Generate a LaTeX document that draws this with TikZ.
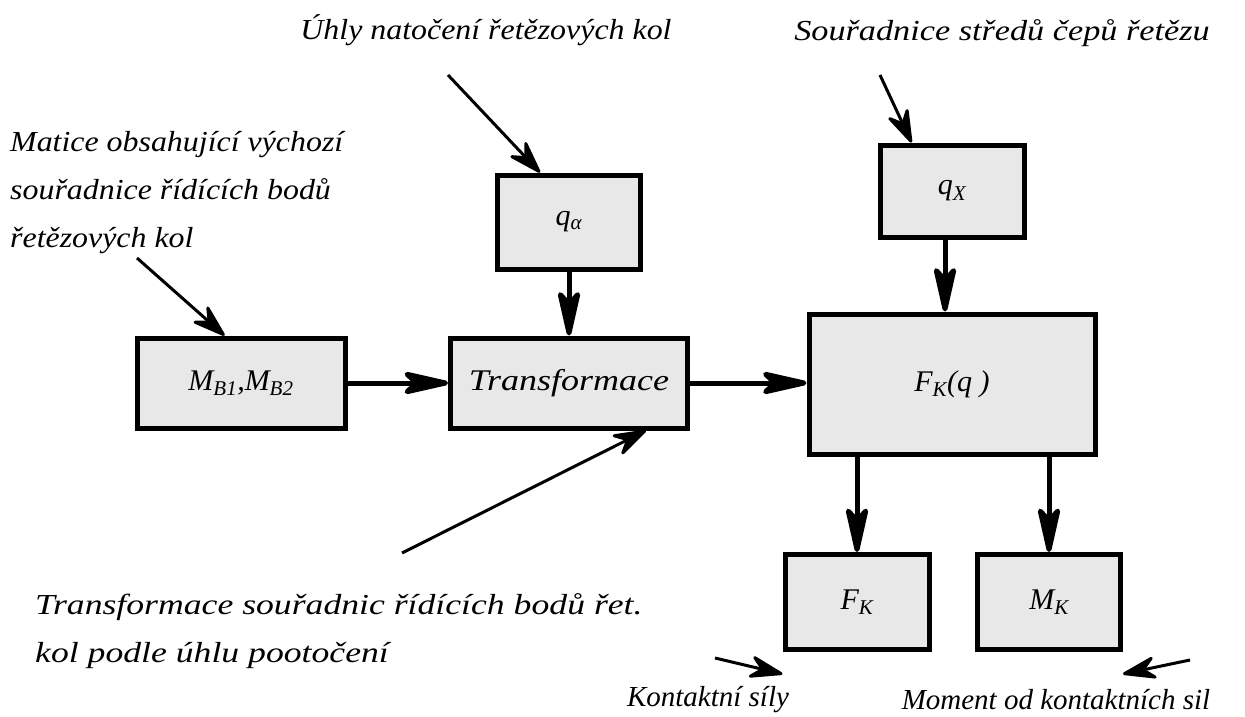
\documentclass[tikz,border=0pt]{standalone}
\usepackage{fontspec}
\setmainfont{Liberation Serif}
\usepackage{tikz}
\usetikzlibrary{arrows.meta, positioning, calc}
\definecolor{BoxGray}{HTML}{E8E8E8}
\tikzset{
  blk node/.style={rectangle, draw, fill=BoxGray, line width=5pt,
                   inner sep=0pt, font=\fontsize{30}{36}\selectfont\itshape},
  lbl node/.style={inner sep=0pt, align=left,
                   font=\fontsize{29}{48}\selectfont\itshape},
  wide/.style={font=\fontsize{29}{48}\selectfont\itshape
                    \addfontfeature{FakeStretch=#1}},
  flow edge/.style={-{Stealth[length=58pt, width=26pt, inset=14pt, round]},
                    line width=5pt},
  note edge/.style={-{Stealth[length=40pt, width=26pt, inset=14pt, round]},
                    line width=3pt},
}

\begin{document}
\begin{tikzpicture}[x=1pt, y=-1pt]
  \useasboundingbox (0,0) rectangle (1245,717);
  % blocks
  \node[blk node, minimum width=208pt, minimum height=90pt] (mb) at (241,383)
    {M\textsubscript{B1},M\textsubscript{B2}};
  \node[blk node, minimum width=237pt, minimum height=90pt,
        font=\fontsize{30}{36}\selectfont\itshape\addfontfeature{FakeStretch=1.2}]
    (tr) at (569,383) {Transformace};
  \node[blk node, minimum width=143pt, minimum height=94pt] (qa) at (569,222)
    {q\textsubscript{α}};
  \node[blk node, minimum width=144pt, minimum height=92pt] (qx) at (952,191)
    {q\textsubscript{X}};
  \node[blk node, minimum width=286pt, minimum height=140pt] (fkq) at (952,384)
    {F\textsubscript{K}(q )};
  \node[blk node, minimum width=144pt, minimum height=95pt] (fk) at (857,602)
    {F\textsubscript{K}};
  \node[blk node, minimum width=143pt, minimum height=95pt] (mk) at (1049,602)
    {M\textsubscript{K}};
  % labels
  \node[lbl node, wide=1.1] (uhly) at (486,30) {Úhly natočení řetězových kol};
  \node[lbl node, wide=1.18] (sour) at (1002,33) {Souřadnice středů čepů řetězu};
  \node[lbl node, wide=1.1, anchor=north west] (mat) at (10,131)
    {Matice obsahující výchozí\\souřadnice řídících bodů\\řetězových kol};
  \node[lbl node, wide=1.23, anchor=north west] (tnote) at (35,593)
    {Transformace souřadnic řídících bodů řet.\\kol podle úhlu pootočení};
  \node[lbl node] (kont) at (708,700) {Kontaktní síly};
  \node[lbl node] (mom) at (1056,700) {Moment od kontaktních sil};
  % free ends of the note arrows
  \coordinate (c1) at (448,75);
  \coordinate (c2) at (880,75);
  \coordinate (c3) at (137,258);
  \coordinate (c4) at (402,553);
  \coordinate (c5) at (715,658);
  \coordinate (c6) at (1190,660);
  % flow
  \draw[flow edge] (mb) -- (tr);
  \draw[flow edge] (tr) -- (fkq.west |- tr);
  \draw[flow edge] (qa) -- (tr);
  \draw[flow edge] (qx.south -| 945,0) -- (fkq.north -| 945,0);
  \draw[flow edge] (fkq.south -| fk.north) -- (fk);
  \draw[flow edge] (fkq.south -| mk.north) -- (mk);
  % notes
  \draw[note edge] (c1) -- ([xshift=45pt]qa.north west);
  \draw[note edge] (c2) -- ([xshift=34pt]qx.north west);
  \draw[note edge] (c3) -- ([xshift=90pt]mb.north west);
  \draw[note edge] (c4) -- ([xshift=-44pt]tr.south east);
  \draw[note edge] (c5) -- ([yshift=-22pt]fk.south west);
  \draw[note edge] (c6) -- ([yshift=-22pt]mk.south east);
\end{tikzpicture}
\end{document}
